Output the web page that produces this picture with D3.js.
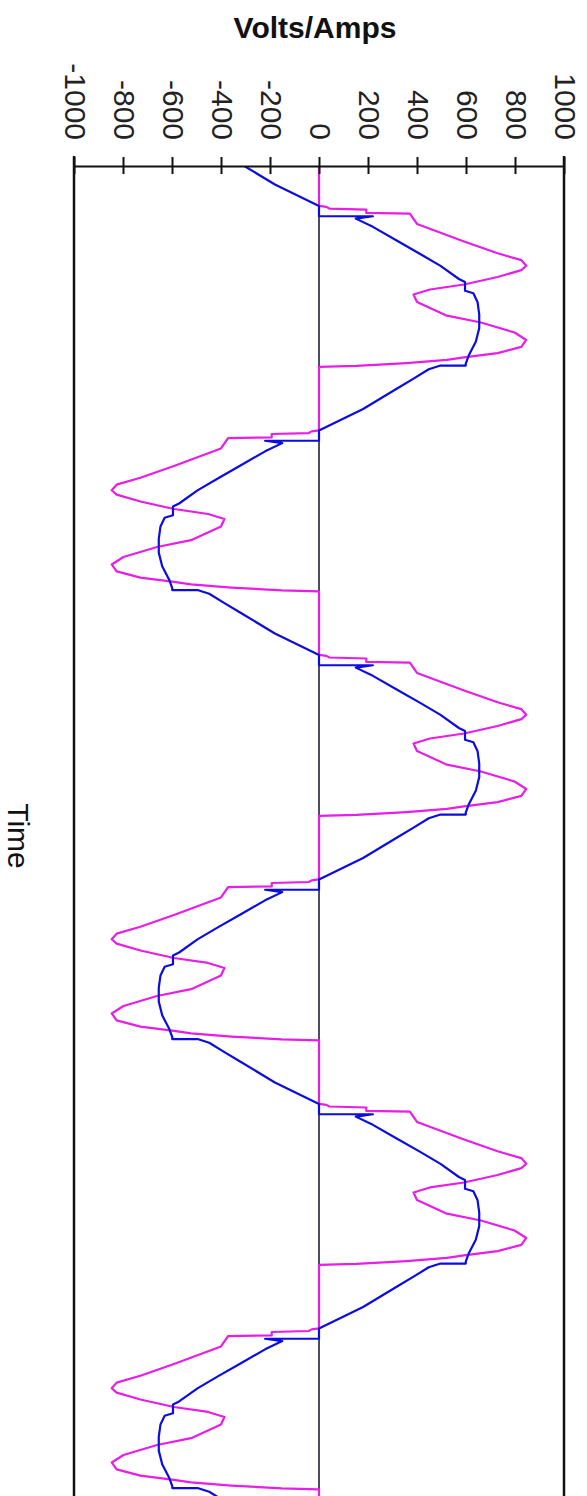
<!DOCTYPE html>
<html>
<head>
<meta charset="utf-8">
<script src="https://cdn.jsdelivr.net/npm/d3@7"></script>
<style>
  html, body { margin: 0; padding: 0; background: #fff; }
  svg { display: block; }
</style>
</head>
<body>
<svg id="chart"></svg>
<script>
// Value axis (Volts/Amps)
const valueTicks = [-1000, -800, -600, -400, -200, 0, 200, 400, 600, 800, 1000];

// Start of each half cycle (phase, degrees) and its polarity
const halfCycleStart = [-180, 0, 180, 360, 540, 720, 900];
const halfCycleSign = [-1, 1, -1, 1, -1, 1, -1];

// Current (blue) over one half cycle: phase offset and magnitude
const currentPhase = [0, 8.3, 8.3, 10.2, 16.8, 27.7, 38.5, 48.1, 58.6, 61, 68, 70, 77, 87, 98, 109, 119.5, 126.5, 128, 128, 131, 138.5, 146.6, 162.8, 180];
const currentValue = [0, 0, 220, 150, 220, 317, 413, 496, 571, 596, 596, 630, 647, 654, 654, 640, 612, 599, 599, 496, 448, 386, 317, 180, 0];

// Voltage (magenta) over one half cycle
const voltagePhase = [0, 0.8, 2.1, 2.9, 5.6, 6.2, 14.5, 28.5, 38, 43.5, 48, 51.5, 57, 63, 67, 71, 77, 88, 93.5, 101.5, 107.5, 113, 118, 121.5, 123.5, 126, 128.3, 129, 180];
const voltageValue = [0, 30, 42, 193, 193, 371, 400, 592, 729, 826, 846, 826, 729, 592, 453, 386, 400, 522, 661, 798, 846, 826, 729, 592, 522, 358, 152, 0, 0];

const width = 587;
const height = 1496;

const svg = d3.select("#chart")
    .attr("width", width)
    .attr("height", height)
    .style("font-family", "'Liberation Sans', Arial, sans-serif");

const x = d3.scaleLinear().domain([-1000, 1000]).range([74, 564]);
const y = d3.scaleLinear().domain([-32, 1040]).range([166, 1503]);

function buildSeries(phase, value) {
    const pts = [];
    halfCycleStart.forEach((s, i) => {
        phase.forEach((p, j) => pts.push([s + p, halfCycleSign[i] * value[j]]));
    });
    return pts;
}

const current = buildSeries(currentPhase, currentValue);
const voltage = buildSeries(voltagePhase, voltageValue);

svg.append("defs").append("clipPath")
    .attr("id", "plot-clip")
    .append("rect")
    .attr("x", x.range()[0])
    .attr("y", y.range()[0])
    .attr("width", x.range()[1] - x.range()[0])
    .attr("height", y.range()[1] - y.range()[0]);

// Time axis line at zero
svg.append("line")
    .attr("x1", x(0)).attr("x2", x(0))
    .attr("y1", y.range()[0]).attr("y2", y.range()[1])
    .attr("stroke", "#101030")
    .attr("stroke-width", 1.5);

const line = d3.line()
    .x(d => x(d[1]))
    .y(d => y(d[0]));

const plot = svg.append("g").attr("clip-path", "url(#plot-clip)");

plot.append("path")
    .datum(voltage)
    .attr("fill", "none")
    .attr("stroke", "#e61ee6")
    .attr("stroke-width", 2.2)
    .attr("stroke-linejoin", "round")
    .attr("d", line);

plot.append("path")
    .datum(current)
    .attr("fill", "none")
    .attr("stroke", "#0c0ce0")
    .attr("stroke-width", 2.2)
    .attr("stroke-linejoin", "round")
    .attr("d", line);

// Frame sides
[x.range()[0], x.range()[1]].forEach(px => {
    svg.append("line")
        .attr("x1", px).attr("x2", px)
        .attr("y1", 156).attr("y2", y.range()[1])
        .attr("stroke", "#111")
        .attr("stroke-width", 2.5);
});

// Value axis across the top, ticks crossing the line
const axis = svg.append("g")
    .attr("transform", `translate(0,${y.range()[0]})`)
    .call(d3.axisTop(x)
        .tickValues(valueTicks)
        .tickSizeOuter(0)
        .tickFormat(d => String(d)));

axis.select(".domain")
    .attr("stroke", "#111")
    .attr("stroke-width", 2);

axis.selectAll(".tick line")
    .attr("y1", 8)
    .attr("y2", -9)
    .attr("stroke", "#111")
    .attr("stroke-width", 2);

axis.selectAll(".tick text")
    .attr("x", 0)
    .attr("y", 0)
    .attr("dy", "0.35em")
    .attr("text-anchor", "end")
    .attr("transform", "translate(1,-26) rotate(90)")
    .attr("fill", "#222")
    .style("font-size", "30px")
    .style("font-family", "'Liberation Sans', Arial, sans-serif");

// Titles
svg.append("text")
    .attr("x", 315)
    .attr("y", 38)
    .attr("text-anchor", "middle")
    .style("font-size", "30px")
    .style("font-weight", "bold")
    .attr("fill", "#111")
    .text("Volts/Amps");

svg.append("text")
    .attr("transform", "translate(18,836) rotate(90)")
    .attr("text-anchor", "middle")
    .attr("dy", "0.35em")
    .style("font-size", "30px")
    .attr("fill", "#111")
    .text("Time");
</script>
</body>
</html>
